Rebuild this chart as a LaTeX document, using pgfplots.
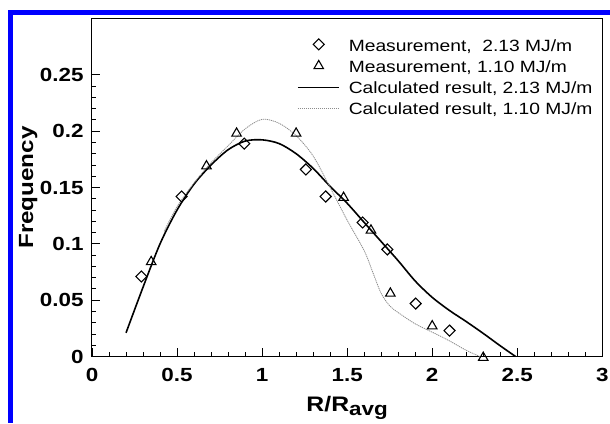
\documentclass[border=0pt]{standalone}
\usepackage{fontspec}
\setmainfont{Liberation Sans}[FakeStretch=1.18]
\usepackage{pgfplots}
\pgfplotsset{compat=1.18}
\pgfplotsset{
  markleg/.style={legend image code/.code={\draw[mark repeat=2,mark phase=2,##1] plot coordinates {(0pt,7pt) (20.75pt,7pt) (41.5pt,7pt)};}},
  lineleg/.style={legend image code/.code={\draw[##1] (0pt,6.5pt) -- (41.5pt,6.5pt);}},
}
\begin{document}
\begin{tikzpicture}
\useasboundingbox (0pt,0pt) rectangle (610pt,423pt);
\fill[blue] (8.3pt,0pt) rectangle (13.3pt,413pt);
\fill[blue] (8.3pt,408pt) rectangle (610pt,413pt);
\begin{axis}[
  at={(92pt,66.5pt)}, anchor=south west,
  scale only axis, width=510.3pt, height=338pt,
  xmin=0, xmax=3, ymin=0, ymax=0.3,
  xtick={0,0.5,1,1.5,2,2.5,3}, ytick={0,0.05,0.1,0.15,0.2,0.25},
  minor x tick num=4, minor y tick num=4,
  tick pos=left, tick align=inside,
  major tick length=8pt, minor tick length=4pt,
  axis line style={line width=1pt},
  every tick/.style={black, line width=0.8pt},
  scaled y ticks=false, scaled x ticks=false,
  /pgf/number format/assume math mode=true,
  /pgf/number format/fixed,
  ticklabel style={font=\bfseries\fontsize{19}{19}\selectfont},
  yticklabel style={inner sep=0pt, anchor=east, xshift=-8.3pt},
  xticklabel style={inner sep=0pt, anchor=north, yshift=-11.5pt},
  xlabel={R/R\raisebox{-3.5pt}{\fontsize{19}{19}\selectfont avg}},
  ylabel={Frequency},
  xlabel style={font=\bfseries\fontsize{21}{21}\selectfont, at={(axis description cs:0.5,-0.1633)}, anchor=base, inner sep=0pt},
  ylabel style={font=\bfseries\fontsize{20.5}{20.5}\selectfont, at={(axis description cs:-0.1156,0.5)}, anchor=base, inner sep=0pt},
  legend style={draw=none, fill=none, at={(axis description cs:0.4017,0.9402)}, anchor=north west,
    inner sep=0pt, row sep=5pt, column sep=8.5pt, font=\fontsize{16.3}{16.3}\selectfont,
    nodes={inner sep=0pt, text height=12pt, text depth=4pt}, cells={anchor=base west}},
  clip=false,
]
\addplot[only marks, mark=square, mark size=3.9pt, mark options={rotate=45, line width=1.1pt, fill=none}, markleg]
coordinates {(0.29,0.071) (0.527,0.142) (0.895,0.189) (1.257,0.166) (1.374,0.142) (1.591,0.119) (1.736,0.095) (1.903,0.047) (2.102,0.023)};
\addlegendentry{Measurement,\ \ 2.13 MJ/m}
\addplot[only marks, mark=triangle, mark size=5.5pt, mark options={line width=1.1pt, fill=none}, markleg]
coordinates {(0.348,0.084) (0.673,0.169) (0.85,0.198) (1.2,0.198) (1.479,0.141) (1.64,0.112) (1.754,0.056) (2.0,0.027) (2.3,-0.001)};
\addlegendentry{Measurement, 1.10 MJ/m}
\addplot[black, line width=1.6pt, smooth, tension=0.5, lineleg]
coordinates {(0.20,0.021) (0.30,0.0615) (0.40,0.100) (0.50,0.130) (0.60,0.153) (0.70,0.170) (0.80,0.1835) (0.90,0.1912) (1.00,0.1923) (1.10,0.189) (1.20,0.180) (1.30,0.167) (1.40,0.151) (1.50,0.136) (1.60,0.119) (1.70,0.102) (1.80,0.085) (1.90,0.067) (2.00,0.0525) (2.10,0.041) (2.20,0.031) (2.30,0.0205) (2.40,0.0095) (2.49,0.0)};
\addlegendentry{Calculated result, 2.13 MJ/m}
\addplot[black!45, line width=0.8pt, dash pattern=on 1.2pt off 0.8pt, smooth, tension=0.5, lineleg]
coordinates {(0.424,0.111) (0.50,0.133) (0.60,0.154) (0.70,0.172) (0.80,0.187) (0.90,0.202) (1.00,0.2105) (1.10,0.207) (1.20,0.196) (1.30,0.178) (1.40,0.150) (1.50,0.121) (1.60,0.094) (1.65,0.075) (1.70,0.056) (1.75,0.045) (1.80,0.039) (1.90,0.029) (2.00,0.0216) (2.10,0.014) (2.20,0.0055) (2.28,0.0)};
\addlegendentry{Calculated result, 1.10 MJ/m}
\end{axis}
\end{tikzpicture}
\end{document}
